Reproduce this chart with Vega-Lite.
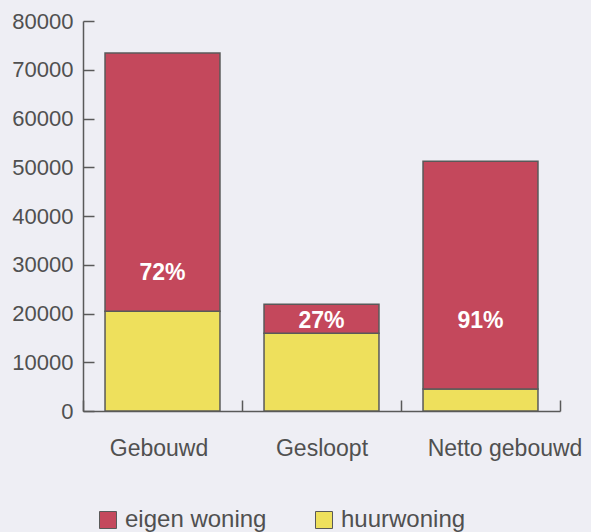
{
  "$schema": "https://vega.github.io/schema/vega-lite/v6.json",
  "width": 477,
  "height": 390,
  "autosize": {"type": "none"},
  "padding": {"left": 83, "top": 21, "right": 31, "bottom": 121},
  "background": "#eeeef4",
  "config": {
    "view": {"stroke": null},
    "font": "Liberation Sans",
    "axis": {
      "domainColor": "#595959",
      "domainWidth": 1.5,
      "tickColor": "#595959",
      "tickWidth": 1.5,
      "grid": false,
      "title": null,
      "labelFont": "Liberation Sans",
      "labelFontSize": 22,
      "labelColor": "#505050"
    }
  },
  "datasets": {
    "woningen": [
      {"categorie": "Gebouwd", "type": "huurwoning", "aantal": 20460},
      {"categorie": "Gebouwd", "type": "eigen woning", "aantal": 52980},
      {"categorie": "Gesloopt", "type": "huurwoning", "aantal": 15960},
      {"categorie": "Gesloopt", "type": "eigen woning", "aantal": 5930},
      {"categorie": "Netto gebouwd", "type": "huurwoning", "aantal": 4500},
      {"categorie": "Netto gebouwd", "type": "eigen woning", "aantal": 46710}
    ]
  },
  "data": {"name": "woningen"},
  "layer": [
    {
      "mark": {"type": "bar", "stroke": "#595959", "strokeWidth": 1.5, "width": {"band": 0.723}},
      "encoding": {
        "x": {
          "field": "categorie",
          "type": "nominal",
          "sort": ["Gebouwd", "Gesloopt", "Netto gebouwd"],
          "scale": {"paddingInner": 0, "paddingOuter": 0},
          "axis": {
            "labelAngle": 0,
            "tickBand": "extent",
            "tickSize": -11,
            "labelPadding": 37,
            "labelFontSize": 23,
            "labelOffset": {
              "condition": [
                {"test": "datum.value === 'Netto gebouwd'", "value": 24},
                {"test": "datum.value === 'Gebouwd'", "value": -4}
              ],
              "value": 0
            }
          }
        },
        "y": {
          "field": "aantal",
          "type": "quantitative",
          "stack": "zero",
          "scale": {"domain": [0, 80000], "nice": false},
          "axis": {
            "values": [0, 10000, 20000, 30000, 40000, 50000, 60000, 70000, 80000],
            "format": "d",
            "tickSize": -11,
            "labelPadding": 21
          }
        },
        "color": {
          "field": "type",
          "type": "nominal",
          "scale": {"domain": ["eigen woning", "huurwoning"], "range": ["#c4485c", "#eee05c"]},
          "legend": {
            "title": null,
            "orient": "none",
            "direction": "horizontal",
            "legendX": 13,
            "legendY": 487,
            "symbolType": "square",
            "symbolSize": 289,
            "symbolStrokeColor": "#595959",
            "symbolStrokeWidth": 1,
            "labelFont": "Liberation Sans",
            "labelFontSize": 24,
            "labelColor": "#505050",
            "labelOffset": 5,
            "columnPadding": 45
          }
        },
        "order": {"field": "type", "sort": "descending"}
      }
    },
    {
      "transform": [
        {"pivot": "type", "value": "aantal", "groupby": ["categorie"]},
        {"calculate": "datum['eigen woning'] / (datum['eigen woning'] + datum.huurwoning)", "as": "aandeel"},
        {"calculate": "max(datum.huurwoning + 0.15 * datum['eigen woning'], 18400)", "as": "labelpositie"}
      ],
      "mark": {"type": "text", "color": "white", "fontWeight": "bold", "fontSize": 23, "baseline": "middle", "align": "center"},
      "encoding": {
        "x": {"field": "categorie", "type": "nominal", "sort": ["Gebouwd", "Gesloopt", "Netto gebouwd"]},
        "y": {"field": "labelpositie", "type": "quantitative"},
        "text": {"field": "aandeel", "type": "quantitative", "format": ".0%"}
      }
    }
  ]
}
